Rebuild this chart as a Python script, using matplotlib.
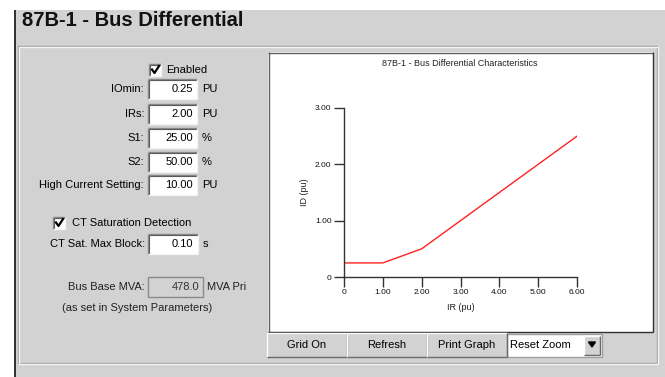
import matplotlib.pyplot as plt
from matplotlib.patches import Rectangle, Polygon

plt.rcParams['font.family'] = ['Liberation Sans', 'DejaVu Sans']

# characteristic curve points (IR, ID) in pu
ir_pts = [0, 1.0, 2.0, 6.0]
id_pts = [0.25, 0.25, 0.5, 2.5]
x_ticks = [0, 1, 2, 3, 4, 5, 6]
x_tick_labels = ['0', '1.00', '2.00', '3.00', '4.00', '5.00', '6.00']
y_ticks = [0, 1, 2, 3]
y_tick_labels = ['0', '1.00', '2.00', '3.00']

# settings form
field_labels = ['IOmin:', 'IRs:', 'S1:', 'S2:', 'High Current Setting:']
field_values = ['0.25', '2.00', '25.00', '50.00', '10.00']
field_units = ['PU', 'PU', '%', '%', 'PU']
buttons = ['Grid On', 'Refresh', 'Print Graph']

W, H = 665, 377
BG = '#d2d2d2'
fig = plt.figure(figsize=(W / 100, H / 100), dpi=100)
fig.patch.set_facecolor('white')

ui = fig.add_axes([0, 0, 1, 1])
ui.set_xlim(0, W)
ui.set_ylim(H, 0)
ui.axis('off')


def box(x0, y0, x1, y1, fc, ec='none', lw=1, z=1):
    ui.add_patch(Rectangle((x0, y0), x1 - x0, y1 - y0, facecolor=fc,
                           edgecolor=ec, linewidth=lw, zorder=z))


def hline(x0, x1, y, c, lw=1, z=2):
    ui.plot([x0, x1], [y, y], color=c, lw=lw, zorder=z, solid_capstyle='butt')


def vline(x, y0, y1, c, lw=1, z=2):
    ui.plot([x, x], [y0, y1], color=c, lw=lw, zorder=z, solid_capstyle='butt')


def sunken(x0, y0, x1, y1, fc='white'):
    box(x0, y0, x1, y1, fc, z=3)
    hline(x0, x1, y0, '#8a8a8a', z=4)
    vline(x0, y0, y1, '#8a8a8a', z=4)
    hline(x0 + 1, x1, y0 + 1, '#5a5a5a', lw=0.8, z=4)
    vline(x0 + 1, y0 + 1, y1, '#5a5a5a', lw=0.8, z=4)
    hline(x0, x1, y1, '#f4f4f4', z=4)
    vline(x1, y0, y1, '#f4f4f4', z=4)


def raised(x0, y0, x1, y1, fc=BG):
    box(x0, y0, x1, y1, fc, z=3)
    hline(x0, x1, y0, 'white', z=4)
    vline(x0, y0, y1, 'white', z=4)
    hline(x0, x1, y1, '#6a6a6a', z=4)
    vline(x1, y0, y1, '#6a6a6a', z=4)


def checkbox(x, y):
    sunken(x, y - 6, x + 12, y + 6)
    ui.plot([x + 3, x + 5.5, x + 10], [y - 0.5, y + 3, y - 4],
            color='black', lw=1.6, zorder=5)


# panel background
box(15, 10, W, H, BG, z=0)
vline(14.5, 10, H, '#202020', lw=1.3)
ui.text(22, 21, '87B-1 - Bus Differential', fontsize=14.5, fontweight='bold',
        va='center', ha='left', color='#111111')

# etched group border
ui.add_patch(Rectangle((18, 46), 639, 317, fill=False, edgecolor='#a0a0a0', lw=1, zorder=1))
ui.add_patch(Rectangle((19, 47), 639, 317, fill=False, edgecolor='#f4f4f4', lw=1, zorder=1))

# form
checkbox(149, 70)
ui.text(166, 70, 'Enabled', fontsize=8, va='center', ha='left')
rows_y = [89, 114, 138, 162, 185]
for lab, val, unit, y in zip(field_labels, field_values, field_units, rows_y):
    ui.text(144, y, lab, fontsize=8, va='center', ha='right')
    sunken(148, y - 10, 197, y + 10)
    ui.text(193, y, val, fontsize=8, va='center', ha='right', zorder=6)
    ui.text(202, y, unit, fontsize=8, va='center', ha='left')

checkbox(53, 223)
ui.text(72, 223, 'CT Saturation Detection', fontsize=8, va='center', ha='left')
ui.text(145, 244, 'CT Sat. Max Block:', fontsize=8, va='center', ha='right')
sunken(148, 234, 198, 254)
ui.text(193, 244, '0.10', fontsize=8, va='center', ha='right', zorder=6)
ui.text(203, 244, 's', fontsize=8, va='center', ha='left')

ui.text(145, 287, 'Bus Base MVA:', fontsize=8, va='center', ha='right', color='#222222')
box(148, 277, 203, 297, BG, ec='#8a8a8a', z=3)
ui.text(199, 287, '478.0', fontsize=8, va='center', ha='right', color='#333333', zorder=6)
ui.text(207, 287, 'MVA Pri', fontsize=8, va='center', ha='left', color='#222222')
ui.text(62, 308, '(as set in System Parameters)', fontsize=8, va='center', ha='left',
        color='#222222')

# plot frame
box(268, 52, 653, 332, 'white', z=1)
hline(268, 653, 52.5, '#606060')
vline(268.5, 52, 332, '#606060')
hline(268, 653, 331.5, '#303030')
vline(652.5, 52, 332, '#303030')
ui.text(460, 64, '87B-1 - Bus Differential Characteristics', fontsize=6.5,
        ha='center', va='center', color='#222222')

# buttons
bx = [267, 347, 427, 507]
for lab, x0, x1 in zip(buttons, bx[:-1], bx[1:]):
    raised(x0, 333, x1, 357)
    ui.text((x0 + x1) / 2, 345, lab, fontsize=8, ha='center', va='center', zorder=6)
box(507, 334, 602, 357, 'white', ec='#a0a0a0', z=3)
ui.text(510, 345, 'Reset Zoom', fontsize=8, ha='left', va='center', zorder=6)
raised(584, 336, 600, 355)
ui.add_patch(Polygon([[588.5, 342], [595.5, 342], [592, 347]], closed=True,
                     color='black', zorder=6))

# chart
ax = fig.add_axes([344 / W, (H - 277) / H, (577 - 344) / W, (277 - 108) / H])
ax.patch.set_alpha(0)
ax.plot(ir_pts, id_pts, color='#ff2020', lw=1)
ax.set_xlim(0, 6)
ax.set_ylim(0, 3)
ax.set_xticks(x_ticks)
ax.set_xticklabels(x_tick_labels)
ax.set_yticks(y_ticks)
ax.set_yticklabels(y_tick_labels)
for s in ['top', 'right']:
    ax.spines[s].set_visible(False)
for s in ['left', 'bottom']:
    ax.spines[s].set_color('#333333')
    ax.spines[s].set_linewidth(1)
ax.tick_params(direction='out', length=7, width=1, color='#333333',
               labelsize=6, labelcolor='#111111', pad=2)
ax.set_xlabel('IR (pu)', fontsize=6.5, labelpad=5, color='#222222')
ax.set_ylabel('ID (pu)', fontsize=6.5, labelpad=4, color='#222222')

fig.savefig('out.png', dpi=100, facecolor=fig.get_facecolor())
